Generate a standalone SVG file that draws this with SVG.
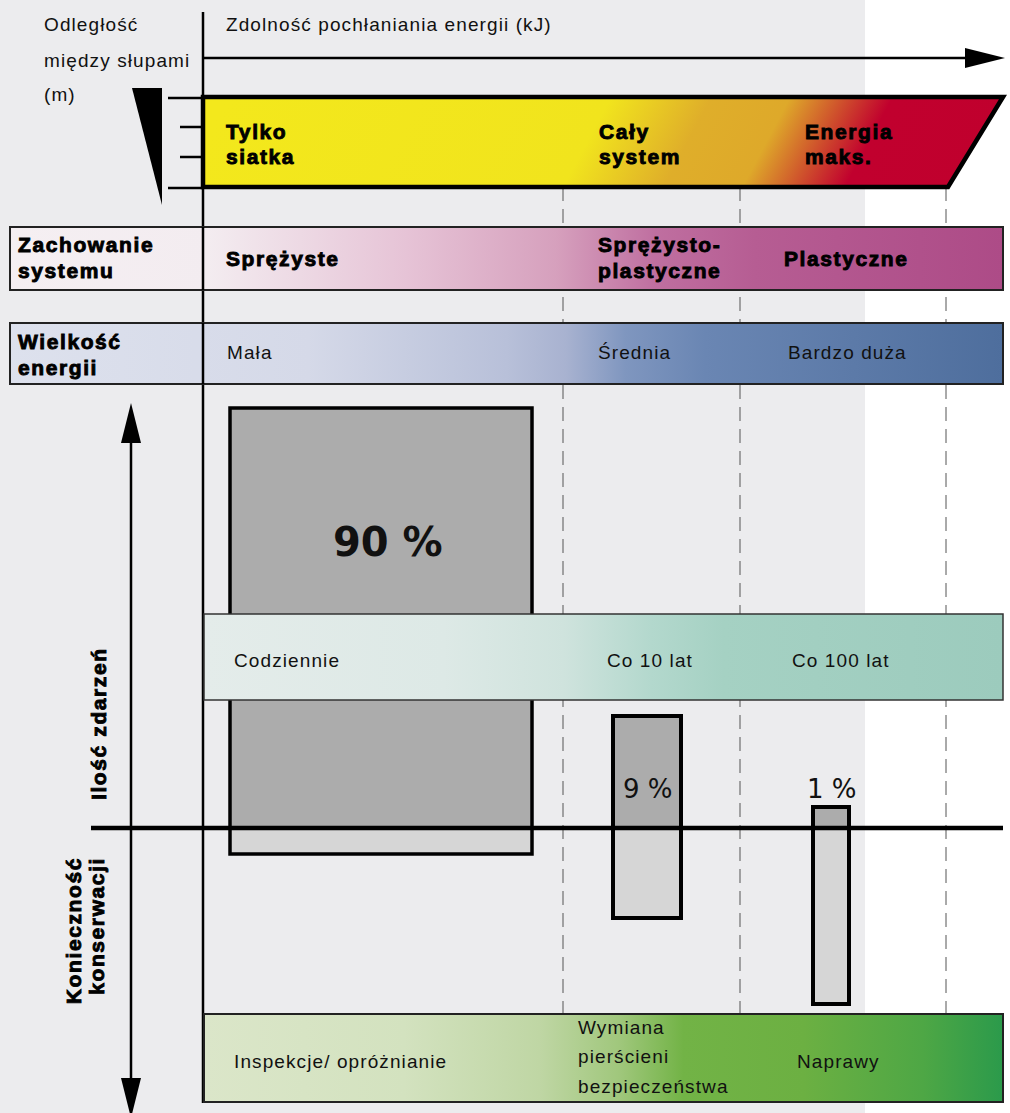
<svg xmlns="http://www.w3.org/2000/svg" width="1010" height="1113" viewBox="0 0 1010 1113">
<style>
.r{font-family:"Liberation Sans",Arial,sans-serif;font-size:19px;letter-spacing:1.1px;fill:#111}
.b{font-family:"Liberation Sans",Arial,sans-serif;font-weight:bold;font-size:21px;letter-spacing:1.6px;fill:#000;stroke:#000;stroke-width:0.9}
.p{font-family:"DejaVu Sans",sans-serif;fill:#111}
.dash{stroke:#555;stroke-width:1;stroke-dasharray:14 8;fill:none}
.ax{stroke:#000;stroke-width:2.5;fill:none}
.box{stroke:#000;stroke-width:3.5}
</style>
<defs>
<marker id="ah" markerUnits="userSpaceOnUse" markerWidth="40" markerHeight="20" refX="0" refY="10" orient="auto" overflow="visible">
<path d="M0,0 L40,10 L0,20 z" fill="#000"/>
</marker>
<linearGradient id="gTop" gradientUnits="userSpaceOnUse" x1="203" y1="0" x2="1003" y2="0" gradientTransform="translate(0 142) skewX(-28) translate(0 -142)">
<stop offset="0" stop-color="#f3e81c"/>
<stop offset="0.48" stop-color="#f1e41d"/>
<stop offset="0.606" stop-color="#dfae2a"/>
<stop offset="0.704" stop-color="#dea92a"/>
<stop offset="0.8325" stop-color="#c1002e"/>
<stop offset="1" stop-color="#c0002d"/>
</linearGradient>
<linearGradient id="gBeh" gradientUnits="userSpaceOnUse" x1="10" y1="0" x2="1003" y2="0">
<stop offset="0" stop-color="#f5eff2"/>
<stop offset="0.2" stop-color="#f3ecf0"/>
<stop offset="0.4" stop-color="#e6c3d6"/>
<stop offset="0.55" stop-color="#d6a0bd"/>
<stop offset="0.65" stop-color="#bf6fa0"/>
<stop offset="0.75" stop-color="#b65d93"/>
<stop offset="1" stop-color="#ad4b87"/>
</linearGradient>
<linearGradient id="gEn" gradientUnits="userSpaceOnUse" x1="10" y1="0" x2="1003" y2="0">
<stop offset="0" stop-color="#dde1ed"/>
<stop offset="0.3" stop-color="#d5d9e8"/>
<stop offset="0.5" stop-color="#b8c0d9"/>
<stop offset="0.56" stop-color="#a8b2d0"/>
<stop offset="0.62" stop-color="#7f96bf"/>
<stop offset="0.7" stop-color="#6a86b3"/>
<stop offset="1" stop-color="#4e6e9d"/>
</linearGradient>
<linearGradient id="gFreq" gradientUnits="userSpaceOnUse" x1="204" y1="0" x2="1003" y2="0">
<stop offset="0" stop-color="#e4ecea"/>
<stop offset="0.3" stop-color="#dde9e6"/>
<stop offset="0.45" stop-color="#cfe3dd"/>
<stop offset="0.56" stop-color="#b3d8cd"/>
<stop offset="0.65" stop-color="#a5d1c3"/>
<stop offset="1" stop-color="#9ccbbd"/>
</linearGradient>
<linearGradient id="gMaint" gradientUnits="userSpaceOnUse" x1="204" y1="0" x2="1003" y2="0">
<stop offset="0" stop-color="#dbe6c9"/>
<stop offset="0.25" stop-color="#d3e2bf"/>
<stop offset="0.42" stop-color="#bfd6a4"/>
<stop offset="0.52" stop-color="#a0c77c"/>
<stop offset="0.6" stop-color="#72b346"/>
<stop offset="0.75" stop-color="#6cb042"/>
<stop offset="0.9" stop-color="#4ea745"/>
<stop offset="1" stop-color="#2b9a4b"/>
</linearGradient>
</defs>

<rect x="0" y="0" width="1010" height="1113" fill="#fff"/>
<rect x="0" y="0" width="865" height="1113" fill="#ececee"/>

<g id="connectors">
<path class="dash" d="M563,187 V1014"/>
<path class="dash" d="M740,187 V1014"/>
<path class="dash" d="M946,187 V1014"/>
<path class="ax" d="M203,12 V1103"/>
<path class="ax" d="M203,58 H965" marker-end="url(#ah)"/>
<path class="ax" d="M131,828 V443" marker-end="url(#ah)"/>
<path class="ax" d="M131,828 V1078" marker-end="url(#ah)"/>
<path class="ax" d="M168,98 H203 M180,127 H203 M180,157 H203 M168,188 H203"/>
<polygon points="132,88 162,88 162,205" fill="#000"/>
</g>

<g id="label-distance">
<text class="r" x="44" y="31">Odległość</text>
<text class="r" x="44" y="67">między słupami</text>
<text class="r" x="44" y="101">(m)</text>
</g>
<g id="label-capacity">
<text class="r" x="226" y="31">Zdolność pochłaniania energii (kJ)</text>
</g>

<g id="band-energy-capacity">
<polygon points="203,97 1003,97 948,187 203,187" fill="url(#gTop)" stroke="#000" stroke-width="4.5"/>
<text class="b" x="226" y="139">Tylko</text>
<text class="b" x="226" y="164">siatka</text>
<text class="b" x="599" y="139">Cały</text>
<text class="b" x="599" y="164">system</text>
<text class="b" x="805" y="139">Energia</text>
<text class="b" x="805" y="164">maks.</text>
</g>

<g id="band-behaviour">
<rect x="10" y="227" width="993" height="63" fill="url(#gBeh)" stroke="#222" stroke-width="2"/>
<path d="M203,227 V290" stroke="#000" stroke-width="2.5"/>
<text class="b" x="18" y="252">Zachowanie</text>
<text class="b" x="18" y="278">systemu</text>
<text class="b" x="226" y="266">Sprężyste</text>
<text class="b" x="598" y="252">Sprężysto-</text>
<text class="b" x="598" y="278">plastyczne</text>
<text class="b" x="784" y="266">Plastyczne</text>
</g>

<g id="band-energy-size">
<rect x="10" y="323" width="993" height="61" fill="url(#gEn)" stroke="#222" stroke-width="2"/>
<path d="M203,323 V384" stroke="#000" stroke-width="2.5"/>
<text class="b" x="18" y="349">Wielkość</text>
<text class="b" x="18" y="375">energii</text>
<text class="r" x="227" y="359">Mała</text>
<text class="r" x="598" y="359">Średnia</text>
<text class="r" x="788" y="359">Bardzo duża</text>
</g>

<g id="box-90">
<rect x="230" y="408" width="302" height="420" fill="#acacac"/>
<rect x="230" y="828" width="302" height="26" fill="#d6d6d6"/>
<rect x="230" y="408" width="302" height="446" fill="none" class="box"/>
<text class="p" x="333" y="556" font-size="40" font-weight="bold">90 %</text>
</g>

<g id="band-frequency">
<rect x="204" y="614" width="799" height="86" fill="url(#gFreq)" stroke="#333" stroke-width="1.5"/>
<text class="r" x="234" y="667">Codziennie</text>
<text class="r" x="607" y="667">Co 10 lat</text>
<text class="r" x="792" y="667">Co 100 lat</text>
</g>

<g id="box-9">
<rect x="613" y="716" width="68" height="112" fill="#acacac"/>
<rect x="613" y="828" width="68" height="90" fill="#d6d6d6"/>
<rect x="613" y="716" width="68" height="202" fill="none" stroke="#000" stroke-width="4"/>
<text class="p" x="623" y="798" font-size="26">9 %</text>
</g>

<g id="box-1">
<rect x="813" y="807" width="36" height="21" fill="#acacac"/>
<rect x="813" y="828" width="36" height="176" fill="#d6d6d6"/>
<rect x="813" y="807" width="36" height="197" fill="none" stroke="#000" stroke-width="4"/>
<text class="p" x="807" y="798" font-size="26">1 %</text>
</g>

<g id="axis-zero">
<path d="M91,828 H1003" stroke="#000" stroke-width="4.5"/>
</g>

<g id="label-events">
<text class="b" transform="translate(106,800) rotate(-90)">Ilość zdarzeń</text>
</g>
<g id="label-maintenance">
<text class="b" text-anchor="end" transform="translate(81,857) rotate(-90)">Konieczność</text>
<text class="b" text-anchor="end" transform="translate(104,857) rotate(-90)">konserwacji</text>
</g>

<g id="band-maintenance">
<rect x="204" y="1014" width="799" height="88" fill="url(#gMaint)" stroke="#222" stroke-width="2"/>
<text class="r" x="234" y="1068">Inspekcje/ opróżnianie</text>
<text class="r" x="578" y="1034">Wymiana</text>
<text class="r" x="578" y="1063">pierścieni</text>
<text class="r" x="578" y="1093">bezpieczeństwa</text>
<text class="r" x="797" y="1068">Naprawy</text>
</g>
</svg>
